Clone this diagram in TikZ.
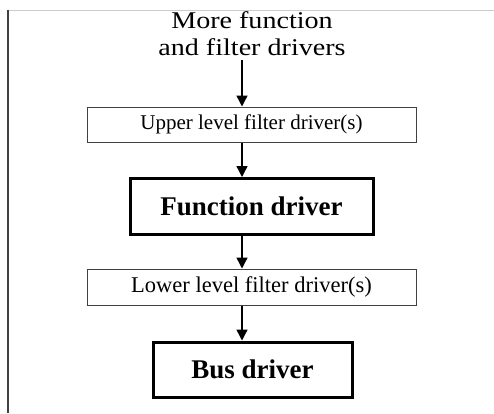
\documentclass[tikz,border=0pt]{standalone}
\usepackage{fontspec}
\setmainfont{Liberation Serif}
\newfontfamily\titlefont[FakeStretch=1.17]{Liberation Serif}
\usetikzlibrary{arrows.meta}

\tikzset{
  thinbox/.style={draw=black!75, line width=1pt, inner sep=0pt, fill=white},
  thickbox/.style={draw=black, line width=3pt, inner sep=0pt, fill=white, font=\fontsize{27}{30}\selectfont\bfseries},
  flow/.style={draw=black, line width=1.4pt, -{Triangle[length=11pt,width=11pt]}},
}

\begin{document}
\begin{tikzpicture}[x=1pt,y=-1pt]
  \useasboundingbox (0,0) rectangle (494,413);

  % frame edges
  \draw[black!20, line width=1pt] (8,10) -- (494,10);
  \draw[black!75, line width=2pt] (8,10) -- (8,413);

  % driver stack
  \node[align=center, anchor=north, inner sep=0pt, font=\titlefont\fontsize{24}{27}\selectfont]
    (more) at (252,11.5) {More function\\and filter drivers};
  \node[thinbox, minimum width=329pt, minimum height=35pt, font=\fontsize{21}{24}\selectfont]
    (upper) at (251.5,124.5) {Upper level filter driver(s)};
  \node[thickbox, minimum width=243pt, minimum height=56pt]
    (func) at (251.5,206.5) {Function driver};
  \node[thinbox, minimum width=329pt, minimum height=36pt, font=\fontsize{22.5}{25}\selectfont]
    (lower) at (251.5,287) {Lower level filter driver(s)};
  \node[thickbox, minimum width=199pt, minimum height=55pt]
    (bus) at (252.5,369.5) {Bus driver};

  % the arrows run slightly left of the box centres
  \coordinate (ax) at (242,0);
  \draw[flow] (ax |- 0,60) -- (ax |- upper.north);
  \draw[flow] (ax |- upper.south) -- (ax |- func.north);
  \draw[flow] (ax |- func.south) -- (ax |- lower.north);
  \draw[flow] (ax |- lower.south) -- (ax |- bus.north);
\end{tikzpicture}
\end{document}
